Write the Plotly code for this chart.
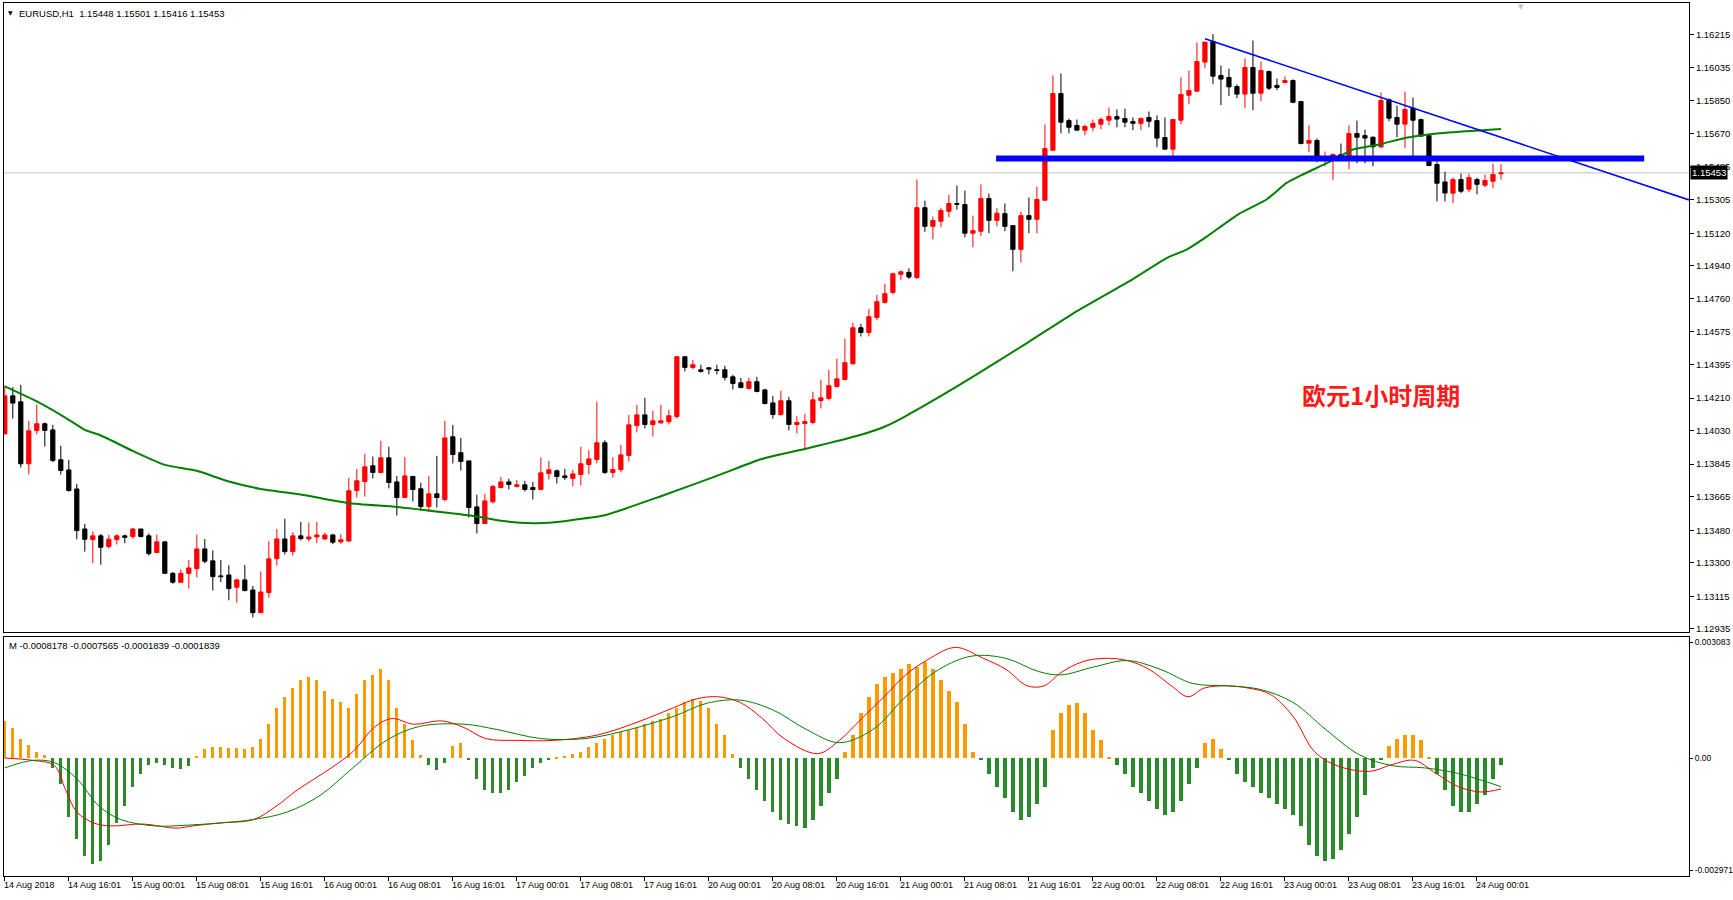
import plotly.graph_objects as go

# ---------------- data ----------------
opens = [1.14012,1.14222,1.14189,1.13847,1.14031,1.14068,1.14034,1.13869,1.13813,1.13708,
 1.13487,1.13428,1.13449,1.13390,1.13428,1.13449,1.13445,1.13487,1.13449,1.13357,
 1.13416,1.13242,1.13193,1.13242,1.13268,1.13377,1.13311,1.13228,1.13233,1.13165,
 1.13206,1.13150,1.13025,1.13136,1.13323,1.13432,1.13362,1.13449,1.13432,1.13443,
 1.13432,1.13454,1.13416,1.13421,1.13699,1.13749,1.13836,1.13799,1.13880,1.13747,
 1.13661,1.13777,1.13709,1.13611,1.13681,1.13650,1.13996,1.13908,1.13863,1.13609,
 1.13517,1.13637,1.13716,1.13747,1.13722,1.13731,1.13716,1.13705,1.13793,1.13808,
 1.13780,1.13766,1.13788,1.13843,1.13871,1.13963,1.13799,1.13815,1.13893,1.14058,
 1.14117,1.14064,1.14073,1.14079,1.14108,1.14438,1.14379,1.14366,1.14377,1.14366,
 1.14366,1.14327,1.14294,1.14263,1.14300,1.14255,1.14183,1.14119,1.14195,1.14064,
 1.14069,1.14075,1.14196,1.14208,1.14274,1.14313,1.14399,1.14598,1.14572,1.14655,
 1.14738,1.14793,1.14893,1.14904,1.14875,1.15261,1.15158,1.15186,1.15241,1.15284,
 1.15278,1.15120,1.15131,1.15311,1.15191,1.15228,1.15162,1.15031,1.15217,1.15197,
 1.15302,1.15578,1.15891,1.15742,1.15715,1.15689,1.15705,1.15722,1.15744,1.15764,
 1.15753,1.15737,1.15727,1.15759,1.15742,1.15648,1.15584,1.15744,1.15882,1.15904,
 1.16065,1.16179,1.15991,1.15980,1.15930,1.15888,1.16035,1.15893,1.16013,1.15936,
 1.15952,1.15963,1.15847,1.15617,1.15632,1.15523,1.15532,1.15554,1.15545,1.15670,
 1.15659,1.15650,1.15597,1.15858,1.15759,1.15722,1.15810,1.15748,1.15659,1.15499,
 1.15403,1.15341,1.15416,1.15363,1.15416,1.15385,1.15407,1.15448]
highs = [1.14278,1.14270,1.14283,1.14084,1.14173,1.14075,1.14062,1.13946,1.13869,1.13736,
 1.13515,1.13474,1.13460,1.13454,1.13458,1.13456,1.13493,1.13487,1.13463,1.13456,
 1.13416,1.13250,1.13264,1.13316,1.13456,1.13432,1.13369,1.13316,1.13287,1.13213,
 1.13288,1.13172,1.13252,1.13419,1.13487,1.13543,1.13469,1.13526,1.13523,1.13526,
 1.13467,1.13460,1.13458,1.13769,1.13819,1.13902,1.13887,1.13974,1.13941,1.13780,
 1.13885,1.13780,1.13742,1.13780,1.13891,1.14084,1.14062,1.13990,1.13863,1.13676,
 1.13681,1.13731,1.13775,1.13764,1.13758,1.13753,1.13747,1.13882,1.13863,1.13815,
 1.13819,1.13814,1.13941,1.13924,1.14189,1.13977,1.13883,1.13951,1.14117,1.14173,
 1.14211,1.14139,1.14173,1.14145,1.14438,1.14438,1.14421,1.14394,1.14377,1.14394,
 1.14388,1.14338,1.14322,1.14322,1.14327,1.14261,1.14222,1.14250,1.14217,1.14112,
 1.14123,1.14244,1.14311,1.14366,1.14427,1.14537,1.14626,1.14620,1.14703,1.14780,
 1.14841,1.14902,1.14913,1.14926,1.15416,1.15300,1.15212,1.15261,1.15333,1.15383,
 1.15355,1.15217,1.15389,1.15339,1.15258,1.15284,1.15162,1.15239,1.15317,1.15377,
 1.15720,1.15991,1.16002,1.15753,1.15748,1.15720,1.15748,1.15759,1.15814,1.15803,
 1.15808,1.15759,1.15759,1.15792,1.15770,1.15759,1.15748,1.15980,1.16018,1.16173,
 1.16175,1.16219,1.16046,1.16029,1.15941,1.16085,1.16184,1.16068,1.16018,1.15974,
 1.15985,1.15969,1.15847,1.15715,1.15643,1.15571,1.15560,1.15615,1.15715,1.15742,
 1.15692,1.15654,1.15897,1.15864,1.15825,1.15902,1.15869,1.15753,1.15670,1.15516,
 1.15460,1.15427,1.15449,1.15449,1.15427,1.15444,1.15505,1.15501]
lows = [1.14012,1.14097,1.13826,1.13788,1.14010,1.13942,1.13856,1.13788,1.13694,1.13430,
 1.13362,1.13298,1.13290,1.13379,1.13401,1.13408,1.13434,1.13441,1.13340,1.13355,
 1.13242,1.13185,1.13193,1.13158,1.13220,1.13298,1.13147,1.13193,1.13093,1.13080,
 1.13143,1.12999,1.13025,1.13108,1.13285,1.13346,1.13340,1.13423,1.13418,1.13408,
 1.13427,1.13403,1.13405,1.13416,1.13661,1.13666,1.13766,1.13799,1.13711,1.13561,
 1.13661,1.13639,1.13587,1.13582,1.13606,1.13639,1.13849,1.13810,1.13550,1.13462,
 1.13517,1.13628,1.13711,1.13705,1.13716,1.13694,1.13650,1.13705,1.13760,1.13738,
 1.13758,1.13722,1.13727,1.13788,1.13849,1.13790,1.13770,1.13800,1.13860,1.14020,
 1.14042,1.13998,1.14069,1.14064,1.14097,1.14357,1.14368,1.14351,1.14340,1.14340,
 1.14307,1.14257,1.14263,1.14257,1.14241,1.14174,1.14097,1.14113,1.14031,1.14014,
 1.13924,1.14064,1.14152,1.14196,1.14268,1.14307,1.14394,1.14550,1.14550,1.14639,
 1.14732,1.14782,1.14860,1.14867,1.14867,1.15127,1.15086,1.15153,1.15208,1.15250,
 1.15097,1.15042,1.15103,1.15120,1.15158,1.15131,1.14910,1.14959,1.15120,1.15120,
 1.15302,1.15578,1.15672,1.15672,1.15689,1.15661,1.15683,1.15694,1.15716,1.15705,
 1.15705,1.15689,1.15689,1.15705,1.15595,1.15584,1.15517,1.15722,1.15832,1.15904,
 1.16031,1.15943,1.15827,1.15877,1.15866,1.15810,1.15799,1.15849,1.15910,1.15910,
 1.15947,1.15838,1.15611,1.15567,1.15512,1.15490,1.15412,1.15540,1.15473,1.15506,
 1.15506,1.15490,1.15589,1.15738,1.15650,1.15589,1.15534,1.15656,1.15490,1.15296,
 1.15296,1.15285,1.15341,1.15346,1.15335,1.15374,1.15368,1.15416]
closes = [1.14222,1.14182,1.13847,1.14029,1.14068,1.14031,1.13865,1.13810,1.13699,1.13478,
 1.13430,1.13449,1.13386,1.13430,1.13449,1.13441,1.13487,1.13445,1.13351,1.13416,
 1.13242,1.13193,1.13242,1.13272,1.13377,1.13309,1.13224,1.13224,1.13158,1.13206,
 1.13147,1.13025,1.13139,1.13322,1.13432,1.13362,1.13449,1.13434,1.13443,1.13454,
 1.13454,1.13414,1.13427,1.13698,1.13753,1.13830,1.13799,1.13880,1.13744,1.13661,
 1.13780,1.13705,1.13611,1.13681,1.13661,1.13990,1.13898,1.13860,1.13606,1.13517,
 1.13642,1.13722,1.13747,1.13733,1.13731,1.13705,1.13705,1.13797,1.13814,1.13777,
 1.13771,1.13791,1.13847,1.13874,1.13963,1.13799,1.13815,1.13896,1.14062,1.14117,
 1.14064,1.14084,1.14084,1.14112,1.14438,1.14379,1.14394,1.14357,1.14370,1.14362,
 1.14324,1.14290,1.14268,1.14300,1.14246,1.14180,1.14119,1.14195,1.14064,1.14075,
 1.14080,1.14200,1.14211,1.14278,1.14316,1.14405,1.14598,1.14572,1.14659,1.14742,
 1.14786,1.14896,1.14907,1.14878,1.15261,1.15158,1.15190,1.15245,1.15284,1.15280,
 1.15120,1.15134,1.15311,1.15191,1.15230,1.15158,1.15031,1.15217,1.15197,1.15306,
 1.15587,1.15891,1.15733,1.15705,1.15689,1.15709,1.15726,1.15748,1.15764,1.15750,
 1.15733,1.15727,1.15753,1.15738,1.15645,1.15584,1.15748,1.15886,1.15908,1.16068,
 1.16175,1.15987,1.15971,1.15928,1.15888,1.16035,1.15893,1.16018,1.15921,1.15925,
 1.15963,1.15843,1.15615,1.15632,1.15523,1.15534,1.15554,1.15545,1.15670,1.15650,
 1.15645,1.15597,1.15853,1.15755,1.15722,1.15803,1.15744,1.15656,1.15494,1.15396,
 1.15342,1.15416,1.15352,1.15427,1.15390,1.15411,1.15444,1.15453]

# moving average (sampled by bar index)
ma_x = [0,4,8,10,12,16,20,24,28,32,37,43,49,55,59,62,66,68,71,75,82,89,94.5,100,103,107,110,
        112.5,120,127.8,134,141,145.2,147.7,150,154.3,157.7,160.2,161.8,166,168.5,171.8,175,178.5,182.8,187]
ma_y = [1.14274,1.14191,1.14090,1.14034,1.14003,1.13918,1.13841,1.13808,1.13749,1.13708,1.13677,
        1.13629,1.13609,1.13578,1.13556,1.13532,1.13519,1.13521,1.13537,1.13563,1.13668,1.13780,
        1.13872,1.13929,1.13961,1.14007,1.14053,1.14108,1.14300,1.14515,1.14690,1.14867,1.14983,
        1.15029,1.15094,1.15228,1.15306,1.15398,1.15435,1.15523,1.15582,1.15610,1.15646,1.15668,
        1.15683,1.15696]

# drawn objects
hline_x = [123.9, 204.9]
hline_y = [1.15533, 1.15533]
trend_x = [150.0, 210.5]
trend_y = [1.16193, 1.15304]
bid = 1.15453

# MACD window
macd_hist = [0.00099,0.00079,0.00052,0.00035,0.00017,0.00009,-0.00026,-0.00070,-0.00157,-0.00215,
 -0.00259,-0.00282,-0.00274,-0.00230,-0.00172,-0.00128,-0.00076,-0.00041,-0.00017,-0.00012,
 -0.00017,-0.00026,-0.00029,-0.00020,0.00006,0.00023,0.00029,0.00029,0.00026,0.00026,
 0.00023,0.00029,0.00052,0.00090,0.00134,0.00163,0.00186,0.00207,0.00215,0.00207,
 0.00178,0.00157,0.00148,0.00134,0.00169,0.00207,0.00221,0.00236,0.00207,0.00134,
 0.00090,0.00047,0.00009,-0.00017,-0.00032,-0.00012,0.00032,0.00041,-0.00006,-0.00055,
 -0.00084,-0.00093,-0.00093,-0.00084,-0.00064,-0.00047,-0.00026,-0.00012,-0.00003,0.00003,
 0.00006,0.00012,0.00017,0.00029,0.00041,0.00052,0.00061,0.00070,0.00076,0.00081,
 0.00090,0.00099,0.00105,0.00119,0.00134,0.00148,0.00157,0.00151,0.00134,0.00090,
 0.00061,0.00012,-0.00026,-0.00055,-0.00084,-0.00113,-0.00143,-0.00163,-0.00175,-0.00180,
 -0.00186,-0.00163,-0.00128,-0.00093,-0.00055,0.00017,0.00061,0.00119,0.00163,0.00198,
 0.00215,0.00227,0.00236,0.00250,0.00242,0.00256,0.00236,0.00207,0.00178,0.00148,
 0.00090,0.00017,-0.00006,-0.00041,-0.00076,-0.00105,-0.00143,-0.00163,-0.00157,-0.00122,
 -0.00076,0.00076,0.00119,0.00140,0.00146,0.00119,0.00076,0.00047,0.00003,-0.00017,
 -0.00041,-0.00076,-0.00093,-0.00113,-0.00134,-0.00151,-0.00143,-0.00113,-0.00070,-0.00026,
 0.00041,0.00052,0.00023,-0.00003,-0.00041,-0.00064,-0.00076,-0.00093,-0.00105,-0.00122,
 -0.00134,-0.00151,-0.00180,-0.00230,-0.00259,-0.00274,-0.00268,-0.00244,-0.00201,-0.00157,
 -0.00099,-0.00026,-0.00006,0.00032,0.00052,0.00061,0.00061,0.00047,0.00003,-0.00041,
 -0.00084,-0.00128,-0.00143,-0.00143,-0.00122,-0.00099,-0.00055,-0.0001839]

macd_red_x = [0,3.5,6.2,7.6,9.0,11.1,13.2,17.3,21.4,23.5,27.0,31.1,33.9,36.6,40.8,43.5,46.3,48.4,51.1,
  54.6,57.4,60.1,64.3,68.4,74.0,79.5,83.6,86.4,89.1,91.9,94.7,97.4,101.6,104.3,107.1,109.9,112.6,
  115.4,118.8,122.3,125.1,127.8,129.9,132.0,134.7,137.5,140.3,143.0,145.8,147.9,149.9,152.7,155.4,
  158.2,161.0,163.7,166.5,170.6,173.4,176.2,178.9,181.7,184.5,187.0]
macd_red_y = [0.0,-0.00006,-0.00020,-0.00084,-0.00143,-0.00172,-0.00180,-0.00175,-0.00186,-0.00180,
  -0.00172,-0.00163,-0.00128,-0.00084,-0.00026,0.00017,0.00084,0.00105,0.00090,0.00099,0.00081,
  0.00052,0.00047,0.00047,0.00061,0.00099,0.00134,0.00157,0.00163,0.00148,0.00105,0.00052,0.00012,
  0.00047,0.00105,0.00163,0.00221,0.00262,0.00294,0.00265,0.00236,0.00192,0.00192,0.00227,0.00256,
  0.00265,0.00259,0.00236,0.00192,0.00163,0.00186,0.00192,0.00186,0.00169,0.00111,0.00017,-0.00020,
  -0.00035,-0.00017,-0.00006,-0.00041,-0.00076,-0.00090,-0.0008178]
macd_grn_x = [0,3.5,6.2,9.0,11.8,14.5,18.7,22.8,27.0,31.1,35.3,39.4,43.5,47.7,51.8,57.4,61.5,67.0,
  72.6,78.1,83.6,87.8,91.9,96.0,100.2,104.3,108.5,112.6,116.8,120.9,125.1,129.2,132.0,136.1,140.3,
  144.4,148.5,152.7,156.8,161.0,165.1,169.3,173.4,177.5,181.7,187.0]
macd_grn_y = [-0.00026,-0.00006,-0.00012,-0.00055,-0.00128,-0.00163,-0.00180,-0.00178,-0.00172,
  -0.00163,-0.00143,-0.00099,-0.00026,0.00047,0.00084,0.00090,0.00076,0.00052,0.00052,0.00076,
  0.00111,0.00146,0.00154,0.00128,0.00076,0.00041,0.00076,0.00163,0.00236,0.00271,0.00265,0.00230,
  0.00221,0.00242,0.00259,0.00236,0.00198,0.00192,0.00183,0.00148,0.00076,0.00009,-0.00020,
  -0.00026,-0.00041,-0.0007565]

price_ticks = [1.16215,1.16035,1.15850,1.15670,1.15485,1.15305,1.15120,1.14940,1.14760,1.14575,
               1.14395,1.14210,1.14030,1.13845,1.13665,1.13480,1.13300,1.13115,1.12935]
price_tick_text = ["%.5f" % v for v in price_ticks]
macd_ticks = [0.003083, 0.0, -0.002971]
macd_tick_text = ["0.003083", "0.00", "-0.002971"]

time_labels = ["14 Aug 2018","14 Aug 16:01","15 Aug 00:01","15 Aug 08:01","15 Aug 16:01",
  "16 Aug 00:01","16 Aug 08:01","16 Aug 16:01","17 Aug 00:01","17 Aug 08:01","17 Aug 16:01",
  "20 Aug 00:01","20 Aug 08:01","20 Aug 16:01","21 Aug 00:01","21 Aug 08:01","21 Aug 16:01",
  "22 Aug 00:01","22 Aug 08:01","22 Aug 16:01","23 Aug 00:01","23 Aug 08:01","23 Aug 16:01",
  "24 Aug 00:01"]
time_label_idx = [0,8,16,24,32,40,48,56,64,72,80,88,96,104,112,120,128,136,144,152,160,168,176,184]

header_text = "EURUSD,H1\u00a0\u00a01.15448 1.15501 1.15416 1.15453"
macd_header = "M -0.0008178 -0.0007565 -0.0001839 -0.0001839"
note_text = "欧元1小时周期"
note_x, note_y = 172, 1.14228

# ---------------- figure ----------------
FONT = "Liberation Sans, Arial, sans-serif"
idx = list(range(len(opens)))

fig = go.Figure()

fig.add_trace(go.Scatter(x=ma_x, y=ma_y, mode="lines", line=dict(color="#008000", width=2, shape="spline", smoothing=0.5),
                         xaxis="x", yaxis="y", hoverinfo="skip"))
fig.add_trace(go.Scatter(x=hline_x, y=hline_y, mode="lines", line=dict(color="#0000FF", width=6),
                         xaxis="x", yaxis="y", hoverinfo="skip"))
fig.add_trace(go.Scatter(x=trend_x, y=trend_y, mode="lines", line=dict(color="#0000FF", width=1.6),
                         xaxis="x", yaxis="y", hoverinfo="skip"))
fig.add_trace(go.Candlestick(
    x=idx, open=opens, high=highs, low=lows, close=closes, xaxis="x", yaxis="y",
    increasing=dict(line=dict(color="#FF0000", width=1), fillcolor="#FF0000"),
    decreasing=dict(line=dict(color="#000000", width=1), fillcolor="#000000"),
    whiskerwidth=0))

hist_colors = ["#FF9900" if v >= 0 else "#2B8B2B" for v in macd_hist]
fig.add_trace(go.Bar(x=idx, y=macd_hist, width=0.4, marker=dict(color=hist_colors, line=dict(width=0)),
                     xaxis="x2", yaxis="y2", hoverinfo="skip"))
fig.add_trace(go.Scatter(x=macd_red_x, y=macd_red_y, mode="lines", line=dict(color="#FF0000", width=1, shape="spline"),
                         xaxis="x2", yaxis="y2", hoverinfo="skip"))
fig.add_trace(go.Scatter(x=macd_grn_x, y=macd_grn_y, mode="lines", line=dict(color="#008000", width=1, shape="spline"),
                         xaxis="x2", yaxis="y2", hoverinfo="skip"))

W, H = 1733, 900
ml, mr, mt, mb = 4, 44, 3, 24
ph = H - mt - mb
main_bottom_px = 631.5
sub_top_px = 637
main_dom = [(H - mb - main_bottom_px) / ph, 1.0]
sub_dom = [0.0, (H - mb - sub_top_px) / ph]

axis_common = dict(showgrid=False, zeroline=False, showline=True, mirror=True, linecolor="#000000",
                   linewidth=1, automargin=False)

annotations = []
for lab, ix in zip(time_labels, time_label_idx):
    annotations.append(dict(x=ix, y=0, xref="x2", yref="paper", text=lab, showarrow=False,
                            xanchor="left", yanchor="top", xshift=-3, yshift=-2,
                            font=dict(family=FONT, size=9, color="#000000")))
annotations.append(dict(x=0, y=1, xref="paper", yref="paper", text="▼", showarrow=False, xanchor="left",
                        yanchor="top", xshift=2, yshift=-4, font=dict(family="DejaVu Sans", size=6, color="#000000")))
annotations.append(dict(x=0, y=1, xref="paper", yref="paper", text=header_text, showarrow=False, xanchor="left",
                        yanchor="top", xshift=13, yshift=-3, font=dict(family=FONT, size=9.5, color="#000000")))
annotations.append(dict(x=0, y=sub_dom[1], xref="paper", yref="paper", text=macd_header, showarrow=False,
                        xanchor="left", yanchor="top", xshift=3, yshift=-1,
                        font=dict(family=FONT, size=9.5, color="#000000")))
annotations.append(dict(x=note_x, y=note_y, xref="x", yref="y", text="<b>" + note_text + "</b>", showarrow=False,
                        font=dict(family="Noto Sans CJK SC", size=24, color="#FF1A1A")))
annotations.append(dict(x=1, y=bid, xref="paper", yref="y", text="1.15453", showarrow=False, xanchor="left",
                        bgcolor="#000000", borderpad=1, xshift=1,
                        font=dict(family=FONT, size=9.5, color="#FFFFFF")))
annotations.append(dict(x=0.9, y=1, xref="paper", yref="paper", text="▼", showarrow=False, xanchor="center",
                        yanchor="top", xshift=0, yshift=2, font=dict(family="DejaVu Sans", size=7, color="#C0C0C0")))

fig.update_layout(
    width=W, height=H, margin=dict(l=ml, r=mr, t=mt, b=mb, autoexpand=False),
    paper_bgcolor="#FFFFFF", plot_bgcolor="#FFFFFF", showlegend=False,
    boxgap=0.25, bargap=0,
    xaxis=dict(domain=[0, 1], range=[-0.1, 210.5], anchor="y", showticklabels=False, ticks="",
               rangeslider=dict(visible=False), **axis_common),
    yaxis=dict(domain=main_dom, range=[1.12921, 1.16391], side="right", tickvals=price_ticks,
               ticktext=price_tick_text, ticks="outside", ticklen=4, tickcolor="#000000",
               tickfont=dict(family=FONT, size=9.5, color="#000000"), **axis_common),
    xaxis2=dict(domain=[0, 1], matches="x", anchor="y2", tickvals=time_label_idx, showticklabels=False,
                ticks="outside", ticklen=4, tickcolor="#000000", **axis_common),
    yaxis2=dict(domain=sub_dom, range=[-0.003130, 0.003216], side="right", tickvals=macd_ticks,
                ticktext=macd_tick_text, ticks="outside", ticklen=3, tickcolor="#000000",
                tickfont=dict(family=FONT, size=8.5, color="#000000"), **axis_common),
    annotations=annotations,
    shapes=[dict(type="line", xref="x domain", yref="y", x0=0, x1=1, y0=bid, y1=bid,
                 line=dict(color="#C0C0C0", width=1), layer="below")],
)

fig.write_html("out.html")
